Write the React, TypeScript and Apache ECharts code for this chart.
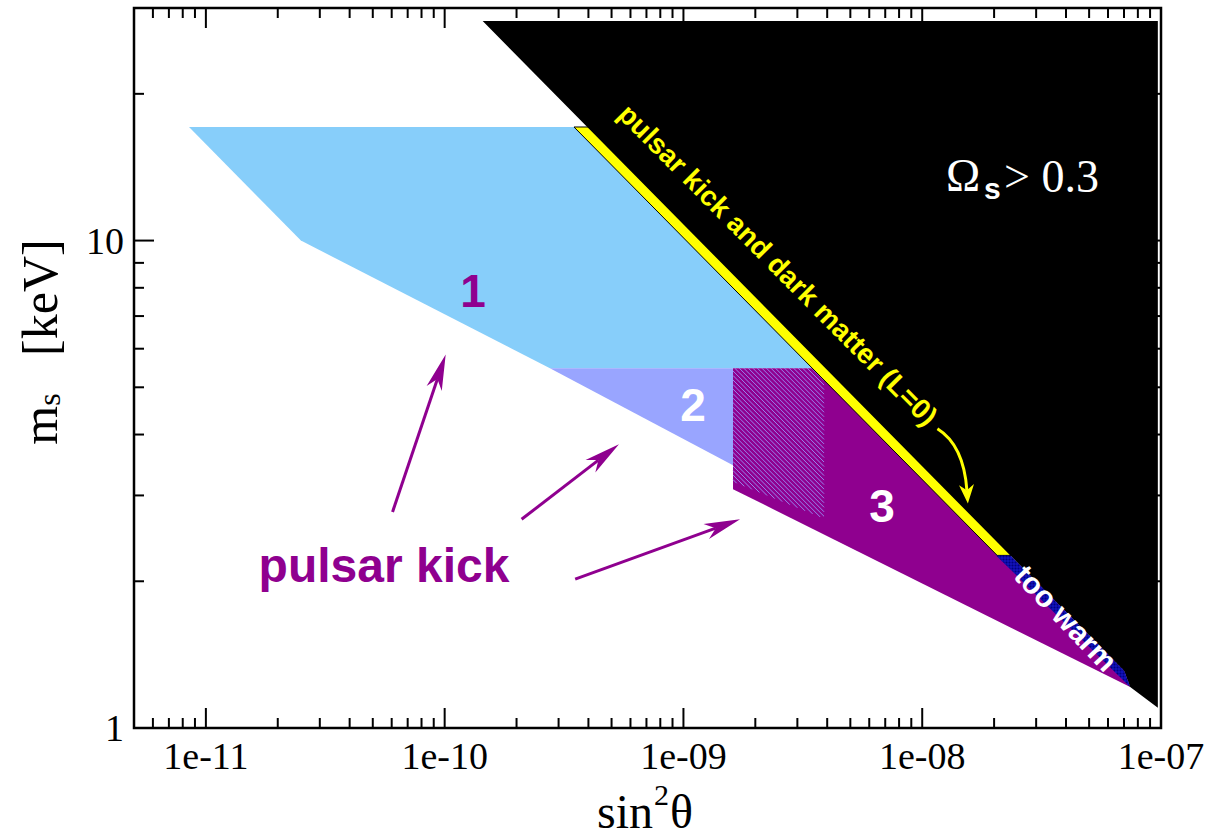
import React, { useEffect, useRef } from "react";
import * as echarts from "echarts";

// ---- axes ----
const X_MIN = 5e-12;
const X_MAX = 1e-7;
const M_MIN = 1;
const M_MAX = 30;
const xMajorTicks = [1e-11, 1e-10, 1e-9, 1e-8, 1e-7];
const yMajorTicks = [1, 10];
const tickMultipliers = [2, 3, 4, 5, 6, 7, 8, 9];
const xDecades = [1e-12, 1e-11, 1e-10, 1e-9, 1e-8];
const yDecades = [1, 10];

// ---- regions (x = sin^2 theta, m = m_s in keV) ----
const omegaX = [1.443e-10, 9.7e-8, 9.7e-8, 7.43e-8, 7.0e-8];
const omegaM = [28.2, 28.2, 1.1, 1.213, 1.311];

const region1X = [8.5e-12, 3.6e-10, 3.55e-9, 2.76e-10, 2.5e-11];
const region1M = [17.1, 17.1, 5.47, 5.47, 10];

const region2X = [2.76e-10, 1.613e-9, 1.613e-9];
const region2M = [5.47, 5.47, 3.46];

const region3X = [1.613e-9, 3.9e-9, 7.0e-8, 7.43e-8, 1.613e-9];
const region3M = [5.47, 5.47, 1.311, 1.213, 3.09];

const overlapX = [1.613e-9, 3.88e-9, 3.88e-9, 1.613e-9];
const overlapM = [5.47, 5.47, 2.69, 3.2];

const yellowX = [3.48e-10, 4.0e-10, 2.4e-8, 2.06e-8];
const yellowM = [17.1, 17.1, 2.26, 2.26];

const warmX = [2.04e-8, 2.335e-8, 7.0e-8, 7.43e-8];
const warmM = [2.26, 2.26, 1.311, 1.213];

// ---- arrows ----
const kickTailX = [6.05e-11, 2.1e-10, 3.52e-10];
const kickTailM = [2.775, 2.68, 2.02];
const kickHeadX = [1.01e-10, 5.37e-10, 1.727e-9];
const kickHeadM = [5.84, 3.82, 2.68];

const curveArrowX = [1.158e-8, 1.491e-8, 1.553e-8];
const curveArrowM = [4.11, 3.805, 2.887];

const SERIF = "'Liberation Serif', 'Times New Roman', serif";
const SANS = "'Liberation Sans', Arial, sans-serif";

type P = number[];

function clipLine(p0: P, dir: P, poly: P[]): P[] | null {
  const ts: number[] = [];
  for (let i = 0; i < poly.length; i++) {
    const a = poly[i];
    const b = poly[(i + 1) % poly.length];
    const ex = b[0] - a[0];
    const ey = b[1] - a[1];
    const den = dir[0] * ey - dir[1] * ex;
    if (Math.abs(den) < 1e-9) continue;
    const dx = a[0] - p0[0];
    const dy = a[1] - p0[1];
    const t = (dx * ey - dy * ex) / den;
    const s = (dx * dir[1] - dy * dir[0]) / den;
    if (s >= -1e-9 && s <= 1 + 1e-9) ts.push(t);
  }
  if (ts.length < 2) return null;
  const t0 = Math.min(...ts);
  const t1 = Math.max(...ts);
  if (t1 - t0 < 0.5) return null;
  return [
    [p0[0] + dir[0] * t0, p0[1] + dir[1] * t0],
    [p0[0] + dir[0] * t1, p0[1] + dir[1] * t1],
  ];
}

function hatchLines(poly: P[], dir: P, spacing: number, stroke: string, lw: number, opacity = 1) {
  const xs = poly.map((p) => p[0]);
  const ys = poly.map((p) => p[1]);
  const minX = Math.min(...xs) - 5, maxX = Math.max(...xs) + 5;
  const minY = Math.min(...ys) - 5, maxY = Math.max(...ys) + 5;
  const len = Math.hypot(dir[0], dir[1]);
  const d = [dir[0] / len, dir[1] / len];
  const n = [-d[1], d[0]];
  const corners = [[minX, minY], [maxX, minY], [maxX, maxY], [minX, maxY]];
  const proj = corners.map((c) => c[0] * n[0] + c[1] * n[1]);
  const c0 = Math.min(...proj), c1 = Math.max(...proj);
  const out: any[] = [];
  for (let c = Math.ceil(c0 / spacing) * spacing; c <= c1; c += spacing) {
    const p0 = [n[0] * c, n[1] * c];
    const seg = clipLine(p0, d, poly);
    if (!seg) continue;
    out.push({
      type: "line",
      shape: { x1: seg[0][0], y1: seg[0][1], x2: seg[1][0], y2: seg[1][1] },
      style: { stroke, lineWidth: lw, opacity },
    });
  }
  return out;
}

function polySeries(xs: number[], ms: number[], fill: string, opts: any = {}) {
  return {
    type: "custom",
    coordinateSystem: "cartesian2d",
    clip: true,
    silent: true,
    z: opts.z ?? 2,
    data: [[xs[0], ms[0]]],
    renderItem: (_params: any, api: any) => {
      const pts = xs.map((x, i) => api.coord([x, ms[i]]));
      const children: any[] = [
        {
          type: "polygon",
          shape: { points: pts },
          style: { fill, stroke: opts.stroke ?? null, lineWidth: opts.lineWidth ?? 0 },
        },
      ];
      if (opts.hatch) {
        for (const h of opts.hatch) {
          children.push(...hatchLines(pts, h.dir, h.spacing, h.color, h.width, h.opacity ?? 1));
        }
      }
      return { type: "group", children };
    },
  };
}

function arrowHead(tip: P, from: P, L: number, W: number, notch: number, color: string) {
  const dx = tip[0] - from[0];
  const dy = tip[1] - from[1];
  const len = Math.hypot(dx, dy) || 1;
  const d = [dx / len, dy / len];
  const n = [-d[1], d[0]];
  const base = [tip[0] - d[0] * L, tip[1] - d[1] * L];
  const nb = [tip[0] - d[0] * L * notch, tip[1] - d[1] * L * notch];
  return {
    poly: {
      type: "polygon",
      shape: {
        points: [
          tip,
          [base[0] + n[0] * W, base[1] + n[1] * W],
          nb,
          [base[0] - n[0] * W, base[1] - n[1] * W],
        ],
      },
      style: { fill: color },
    },
    neck: nb,
  };
}

export default function App() {
  const ref = useRef<HTMLDivElement>(null);
  useEffect(() => {
    document.body.style.margin = "0";
    if (!ref.current) return;
    const chart = echarts.init(ref.current, undefined, { renderer: "svg" });

    const xMinor: number[] = [];
    xDecades.forEach((d) =>
      tickMultipliers.forEach((k) => {
        const v = k * d;
        if (v > X_MIN * 1.0001 && v < X_MAX * 0.9999) xMinor.push(v);
      })
    );
    const yMinor: number[] = [];
    yDecades.forEach((d) =>
      tickMultipliers.forEach((k) => {
        const v = k * d;
        if (v > M_MIN * 1.0001 && v < M_MAX * 0.9999) yMinor.push(v);
      })
    );

    const isPow10 = (v: number) => {
      const e = Math.log10(v);
      return Math.abs(e - Math.round(e)) < 1e-6;
    };

    const purple = "#8f008f";
    const txt = (text: string, x: number, y: number, font: string, size: number, fill: string, extra: any = {}) => ({
      type: "text",
      x,
      y,
      z: 20,
      rotation: extra.rotation ?? 0,
      style: {
        text,
        fontFamily: font,
        fontSize: size,
        fontWeight: extra.bold ? "bold" : "normal",
        fill,
        textAlign: extra.align ?? "center",
        textVerticalAlign: "middle",
      },
    });

    const option: any = {
      animation: false,
      backgroundColor: "#ffffff",
      grid: { left: 134, right: 50, top: 8, bottom: 110, containLabel: false },
      xAxis: {
        type: "log",
        logBase: 10,
        min: X_MIN,
        max: X_MAX,
        axisLine: { show: false },
        axisTick: { show: false },
        splitLine: { show: false },
        axisLabel: {
          interval: 0,
          margin: 9,
          color: "#000",
          fontFamily: SERIF,
          fontSize: 38,
          hideOverlap: false,
          formatter: (v: number) => {
            if (!isPow10(v)) return "";
            const e = Math.round(Math.log10(v));
            return "1e" + (e < 0 ? "-" : "+") + String(Math.abs(e)).padStart(2, "0");
          },
        },
      },
      yAxis: {
        type: "log",
        logBase: 10,
        min: M_MIN,
        max: M_MAX,
        axisLine: { show: false },
        axisTick: { show: false },
        splitLine: { show: false },
        axisLabel: {
          interval: 0,
          margin: 10,
          color: "#000",
          fontFamily: SERIF,
          fontSize: 38,
          formatter: (v: number) => (isPow10(v) ? String(Math.round(v)) : ""),
        },
      },
      series: [
        polySeries(region1X, region1M, "#87cefa"),
        polySeries(region2X, region2M, "#99a5ff"),
        polySeries(region3X, region3M, purple),
        polySeries(overlapX, overlapM, "rgba(0,0,0,0)", {
          hatch: [{ dir: [1, 1], spacing: 3.2, color: "#9a9aff", width: 1, opacity: 0.85 }],
        }),
        polySeries(yellowX, yellowM, "#ffff00", { stroke: "#000", lineWidth: 1 }),
        polySeries(omegaX, omegaM, "#000000"),
        polySeries(warmX, warmM, "#000080", {
          hatch: [
            { dir: [1, 0], spacing: 3, color: "#2a2aff", width: 0.5 },
            { dir: [0, 1], spacing: 3, color: "#2a2aff", width: 0.5 },
          ],
        }),
        // pulsar kick arrows
        {
          type: "custom",
          coordinateSystem: "cartesian2d",
          clip: true,
          silent: true,
          z: 3,
          dimensions: ["x1", "m1", "x2", "m2"],
          encode: { x: [0, 2], y: [1, 3] },
          data: kickTailX.map((x, i) => [x, kickTailM[i], kickHeadX[i], kickHeadM[i]]),
          renderItem: (_p: any, api: any) => {
            const s = api.coord([api.value(0), api.value(1)]);
            const t = api.coord([api.value(2), api.value(3)]);
            const h = arrowHead(t, s, 36, 8, 0.72, purple);
            return {
              type: "group",
              children: [
                {
                  type: "line",
                  shape: { x1: s[0], y1: s[1], x2: h.neck[0], y2: h.neck[1] },
                  style: { stroke: purple, lineWidth: 3 },
                },
                h.poly,
              ],
            };
          },
        },
        // curved yellow arrow
        {
          type: "custom",
          coordinateSystem: "cartesian2d",
          clip: true,
          silent: true,
          z: 4,
          data: [[curveArrowX[0], curveArrowM[0]]],
          renderItem: (_p: any, api: any) => {
            const p0 = api.coord([curveArrowX[0], curveArrowM[0]]);
            const c = api.coord([curveArrowX[1], curveArrowM[1]]);
            const tip = api.coord([curveArrowX[2], curveArrowM[2]]);
            const h = arrowHead(tip, c, 19, 7.5, 0.7, "#ffff00");
            return {
              type: "group",
              children: [
                {
                  type: "bezierCurve",
                  shape: { x1: p0[0], y1: p0[1], x2: h.neck[0], y2: h.neck[1], cpx1: c[0], cpy1: c[1] },
                  style: { stroke: "#ffff00", lineWidth: 3, fill: null },
                },
                h.poly,
              ],
            };
          },
        },
        // frame and ticks
        {
          type: "custom",
          coordinateSystem: "cartesian2d",
          clip: false,
          silent: true,
          z: 10,
          data: [[X_MIN, M_MIN]],
          renderItem: (params: any, api: any) => {
            const cs = params.coordSys;
            const left = cs.x, top = cs.y, right = cs.x + cs.width, bottom = cs.y + cs.height;
            const ch: any[] = [];
            const tick = (x1: number, y1: number, x2: number, y2: number) =>
              ch.push({ type: "line", shape: { x1, y1, x2, y2 }, style: { stroke: "#000", lineWidth: 2 } });
            xMajorTicks.forEach((v) => {
              const px = api.coord([v, M_MIN])[0];
              tick(px, bottom, px, bottom - 20);
              tick(px, top, px, top + 20);
            });
            xMinor.forEach((v) => {
              const px = api.coord([v, M_MIN])[0];
              tick(px, bottom, px, bottom - 10);
              tick(px, top, px, top + 10);
            });
            yMajorTicks.forEach((v) => {
              const py = api.coord([X_MIN, v])[1];
              tick(left, py, left + 20, py);
              tick(right, py, right - 20, py);
            });
            yMinor.forEach((v) => {
              const py = api.coord([X_MIN, v])[1];
              tick(left, py, left + 10, py);
              tick(right, py, right - 10, py);
            });
            ch.push({
              type: "rect",
              shape: { x: left, y: top, width: right - left, height: bottom - top },
              style: { fill: null, stroke: "#000", lineWidth: 2.5 },
            });
            return { type: "group", children: ch };
          },
        },
      ],
      graphic: [
        // x axis title: sin^2 theta
        txt("sin", 597, 811, SERIF, 48, "#000", { align: "left" }),
        txt("2", 654, 794, SERIF, 30, "#000", { align: "left" }),
        txt("θ", 670, 811, SERIF, 48, "#000", { align: "left" }),
        // y axis title: m_s [keV]
        {
          type: "text",
          x: 40,
          y: 342,
          rotation: Math.PI / 2,
          z: 20,
          style: {
            text: "{a|m}{b|s}{a|   [keV]}",
            textAlign: "center",
            textVerticalAlign: "middle",
            rich: {
              a: { fontFamily: SERIF, fontSize: 50, lineHeight: 50, fill: "#000" },
              b: { fontFamily: SERIF, fontSize: 32, lineHeight: 50, verticalAlign: "bottom", fill: "#000" },
            },
          },
        },
        // Omega_s > 0.3
        txt("Ω", 946, 175, SERIF, 46, "#fff", { align: "left" }),
        txt("s", 984, 188, SANS, 30, "#fff", { align: "left", bold: true }),
        txt("> 0.3", 1004, 176, SERIF, 46, "#fff", { align: "left" }),
        txt("1", 473, 291, SANS, 46, purple, { bold: true }),
        txt("2", 693, 405, SANS, 46, "#fff", { bold: true }),
        txt("3", 882, 506, SANS, 46, "#fff", { bold: true }),
        txt("pulsar kick", 384, 565, SANS, 48, purple, { bold: true }),
        txt("pulsar kick and dark matter (L=0)", 778, 265, SANS, 28, "#ffff00", { bold: true, rotation: -0.79 }),
        txt("too warm", 1066, 618, SANS, 30, "#fff", { bold: true, rotation: -0.81 }),
      ],
    };

    chart.setOption(option);
    return () => chart.dispose();
  }, []);

  return <div ref={ref} style={{ width: 1211, height: 838 }} />;
}
